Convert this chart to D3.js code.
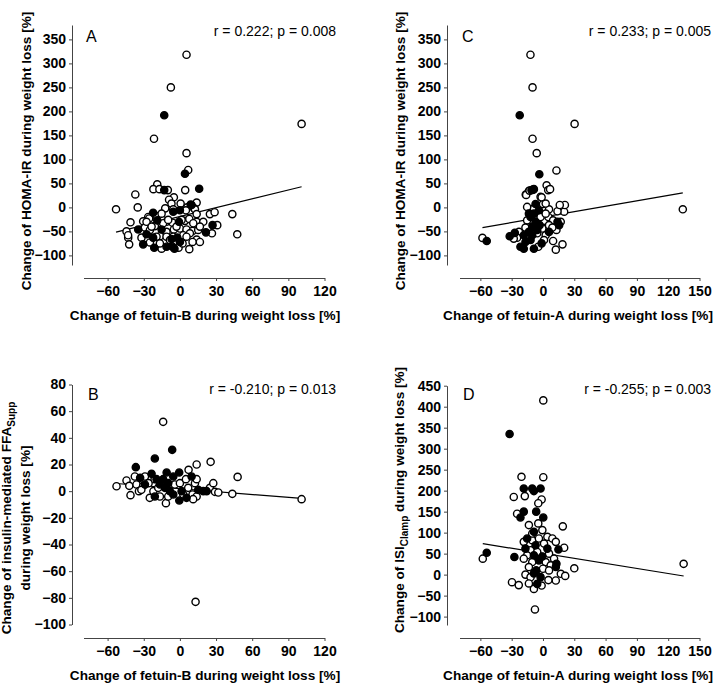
<!DOCTYPE html>
<html>
<head>
<meta charset="utf-8">
<script src="https://cdn.jsdelivr.net/npm/d3@7"></script>
<style>
  body { margin: 0; background: #fff; }
  svg { font-family: "Liberation Sans", Arial, sans-serif; }
  .axis path, .axis line { stroke: #444; stroke-width: 1; }
  .axis text { font-size: 14px; font-weight: bold; fill: #000; }
  .title { font-size: 13.6px; font-weight: bold; }
  .stat { font-size: 14px; }
  .letter { font-size: 16px; }
</style>
</head>
<body>
<div id="chart"></div>
<script>
// values: [x, y] pairs, open = white circle, filled = black circle

const panelA_open = [[5.5,318],[-7.5,250],[-21.5,143],[101,174],[5.5,113],[6.9,78],[-18.8,48],[-22,38],[-17,38],
  [-10,36],[-37,27],[4.4,36],[-5,21],[-53,-4],[-35,0],[-9,16],[-7,8],[0.6,8],[13.9,10],[6.1,0],[11.9,-2],
  [-12.2,-2],[-5.5,-4],[5,-6],[12.5,-4],[13.9,-14],[24.9,-14],[28.8,-10],[43.5,-14],[-26.3,-20],[-19.4,-18],
  [-41,-31],[-30.5,-29],[-25.5,-23],[-15.2,-23],[-11.1,-30],[-6.1,-32],[4.2,-28],[7.8,-24],[13.9,-30],[19.4,-30],[31,-37],
  [-44.3,-50],[-29.1,-42],[-24.9,-47],[-20.8,-39],[-11.1,-51],[-5,-46],[0,-44],[5.5,-46],[10.5,-49],[15.2,-47],[26.6,-54],[47.6,-56],
  [-42.9,-63],[-31.9,-63],[-16.6,-60],[-11.1,-61],[2.8,-58],[8.3,-54],[13.9,-67],
  [-42.1,-77],[-24.9,-73],[-15.2,-86],[-1.1,-84],[7.8,-87],[16.6,-72],
  [-27.7,-30],[-23.5,-40],[-15.2,-13],[-13.9,-33],[-9.7,-26],[-2.8,-40],[1.4,-26],[11.1,-33],[16.6,-40],
  [-5.5,-61],[5.5,-61],[-19.4,-61],[-8.3,-68],[2.2,-75],[10.5,-72],[-16.6,-75],[-43,-58]];
const panelA_filled = [[-13,192],[4.2,70],[-13,36],[16,39],[8.9,6],[0,-6],[-22.2,-11],[-18.8,-27],[-0.8,-30],[27.1,-37],
  [-34.6,-46],[-15.2,-46],[21.6,-52],[-27.7,-56],[-22.2,-63],[-6.9,-66],[-2.2,-63],[-30.5,-77],[-21.3,-84],[-11.1,-82],
  [-6.1,-82],[0,-72],[-5.5,-9],[9.7,5],[-4.5,-86]];

const panelC_open = [[-12,318],[-10,250],[30.3,174],[-10,143],[-6,113],[12.9,77],[3.5,46],[5,36],[-16.5,27],[-2.3,22],
  [-13.5,34],[134,-4],[-58,-63.5],[-23,-51],[-4.5,-82],[9.7,-70],[12.3,-88],[18.7,-77],[-15.2,-27],[-16.8,-42],[1,-28],
  [5.2,-20],[9.7,-27],[17,-30],[12.9,-47],[20.3,-9],[21,5],[13.9,-8],[5.8,-4],[0,7],[-8.7,-2],[-15.2,1],[-16.1,26],
  [-12.9,35],[-1.3,21],[6.8,38],[2.6,8],[-5.5,-54],[2.6,-58],[1,-68],[-24.8,-63],[-28,-65],[-2.3,-20],[2.6,-13],
  [-0.6,-44],[5.8,-37],[9,-42],[16.1,5]];
const panelC_filled = [[-22.3,192],[-3.5,69],[-9.4,37],[-53.9,-70],[-31.9,-60],[-27,-53],[-18.4,-58],[-21.6,-82],[-18.4,-86],
  [-8.7,-86],[-1.3,-75],[-11.9,-20],[-8.7,-13],[-7.1,-30],[-3.2,-37],[13.9,-30],[-7.1,7],[-11,36],[-8.7,38],[-13.5,-51],
  [-10.3,-58],[5.8,-51],[-11.9,-68],[-16.8,-72],[-3.9,-6],[-10.3,-40],[-5.5,-47],[15.5,-37],[-13.5,-13]];

const panelB_open = [[-13.9,52],[13.9,20],[25.5,22],[47.9,10.7],[101,-6],[-52.6,3.7],[7.2,16],[13,-83],[-11.6,-9],
  [-44.3,8],[-42,4],[-41,-3],[-37.4,11],[-36,5],[-29,11],[-30.5,4],[-34,0],[-26,6],[-22,0],[-18,2.5],[-16.6,-4],
  [-4.2,5],[0,6],[2.8,-2.5],[5,9],[6.9,2.5],[12.5,6],[13.9,9],[10.5,-2.5],[13.9,-4],[24.9,2.5],[27.7,6],[29.1,-0.5],
  [31.9,-1],[43.5,-2],[11,-6],[-25,-5],[-32,1],[-9.7,-4],[-21,9]];
const panelB_filled = [[-6.4,31],[-20.8,24.5],[-36.6,18],[-0.5,-7],[-33,10],[-23.5,13],[-19.4,9],[-20.8,-4],[-13.9,9],
  [-11,14],[-9.7,6],[-8.3,0],[-5.5,11],[-0.6,14],[1.4,0],[9.7,11],[15.2,1],[19.4,0],[22.2,0],[5.5,-5],[-29,5],
  [-16.6,5],[-12.5,2.5],[-5.5,-2.5]];

const panelD_open = [[0.3,415],[-20.6,233],[0.3,232],[-28,185],[-17.4,187],[-1.3,179],[-4.5,170],[-24.8,145],[-57.7,38],
  [134.8,25.7],[30,15],[19,115],[-29.7,-18],[-23.2,-25],[-7.7,-83],[-8.7,-34],[-13.5,118],[-4.5,122],[-0.6,106],
  [4.2,90],[-10.3,82],[-3.9,86],[-18.4,78],[1,74],[9,86],[12.3,78],[-11.9,58],[-5.5,54],[20.3,64],[-15.2,46],[5.8,50],
  [-18.4,38],[-10.3,30],[2.6,30],[10.6,38],[7.4,22],[-13.5,18],[0,14],[5.8,10],[17.1,2],[21.3,-3],[12.3,-14],
  [-16.8,0],[-11.9,-6],[-13.5,-21],[-1.3,-26],[5.2,-13],[-10.3,98]];
const panelD_filled = [[-32,335],[-18.4,205],[-10.3,205],[-2.3,205],[-8.7,199],[-18.4,150],[-6.5,150],[0.3,136],
  [-21.6,136],[-53.9,52],[-27.4,42],[-8.7,102],[-15.2,86],[-7.1,70],[-16.8,62],[4.2,62],[14.8,60],[-8.7,46],[-0.6,43],
  [-3.9,34],[12.9,26],[-6.5,10],[12.3,18],[-8.7,3],[-2.3,-6],[-5.5,-22]];

// fitted lines as drawn: [intercept, slope]
const regA = [-19, 0.614];
const regC = [-20.1, 0.377];
const regB = [1.9, -0.073];
const regD = [50.7, -0.4];

const statLabels = ["r = 0.222; p = 0.008", "r = 0.233; p = 0.005", "r = -0.210; p = 0.013", "r = -0.255; p = 0.003"];
const panelLetters = ["A", "C", "B", "D"];
const xTicksB = [-60, -30, 0, 30, 60, 90, 120];
const xTicksA = [-60, -30, 0, 30, 60, 90, 120, 150];
const yTicksHoma = [-100, -50, 0, 50, 100, 150, 200, 250, 300, 350];
const yTicksFfa = [-100, -80, -60, -40, -20, 0, 20, 40, 60, 80];
const yTicksIsi = [-100, -50, 0, 50, 100, 150, 200, 250, 300, 350, 400, 450];

const width = 715, height = 685;
const svg = d3.select("#chart").append("svg")
  .attr("width", width).attr("height", height);

const panels = [
  { open: panelA_open, filled: panelA_filled, reg: regA, letter: panelLetters[0], stat: statLabels[0],
    xDom: [-80, 120], xR: [83.5, 324.5], yDom: [-120, 380], yR: [265, 25], xTicks: xTicksB, yTicks: yTicksHoma,
    ax: 72, ay: 278, statX: 336, statY: 36, letX: 86, letY: 42,
    xTitle: "Change of fetuin-B during weight loss [%]", xTitleX: 205, xTitleY: 320,
    yTitle: [["Change of HOMA-IR during weight loss [%]"]], yTitleX: [31], yTitleY: 151 },
  { open: panelC_open, filled: panelC_filled, reg: regC, letter: panelLetters[1], stat: statLabels[1],
    xDom: [-80, 150], xR: [459.5, 699.5], yDom: [-120, 380], yR: [265, 25], xTicks: xTicksA, yTicks: yTicksHoma,
    ax: 447, ay: 278, statX: 711, statY: 36, letX: 462, letY: 42,
    xTitle: "Change of fetuin-A during weight loss [%]", xTitleX: 578, xTitleY: 320,
    yTitle: [["Change of HOMA-IR during weight loss [%]"]], yTitleX: [405], yTitleY: 151 },
  { open: panelB_open, filled: panelB_filled, reg: regB, letter: panelLetters[2], stat: statLabels[2],
    xDom: [-80, 120], xR: [83.5, 324.5], yDom: [-100, 80], yR: [624.5, 384.5], xTicks: xTicksB, yTicks: yTicksFfa,
    ax: 72, ay: 638, statX: 336, statY: 394, letX: 88, letY: 400,
    xTitle: "Change of fetuin-B during weight loss [%]", xTitleX: 205, xTitleY: 680,
    yTitle: [["Change of insulin-mediated FFA", "Supp"], ["during weight loss [%]"]], yTitleX: [11, 30], yTitleY: 518 },
  { open: panelD_open, filled: panelD_filled, reg: regD, letter: panelLetters[3], stat: statLabels[3],
    xDom: [-80, 150], xR: [459.5, 699.5], yDom: [-120, 450], yR: [625, 385.7], xTicks: xTicksA, yTicks: yTicksIsi,
    ax: 447, ay: 638, statX: 711, statY: 394, letX: 463, letY: 400,
    xTitle: "Change of fetuin-A during weight loss [%]", xTitleX: 578, xTitleY: 680,
    yTitle: [["Change of ISI", "Clamp", " during weight loss [%]"]], yTitleX: [404], yTitleY: 500 }
];

panels.forEach(p => {
  const x = d3.scaleLinear().domain(p.xDom).range(p.xR);
  const y = d3.scaleLinear().domain(p.yDom).range(p.yR);
  const g = svg.append("g");

  g.append("g").attr("class", "axis")
    .attr("transform", "translate(" + p.ax + ",0)")
    .call(d3.axisLeft(y).tickValues(p.yTicks).tickSize(3).tickSizeOuter(0).tickPadding(3));
  g.append("g").attr("class", "axis")
    .attr("transform", "translate(0," + p.ay + ")")
    .call(d3.axisBottom(x).tickValues(p.xTicks).tickSize(3).tickSizeOuter(0).tickPadding(5));

  // regression line over the x range of the data
  const all = p.open.concat(p.filled);
  const ext = d3.extent(all, d => d[0]);
  g.append("line")
    .attr("x1", x(ext[0])).attr("y1", y(p.reg[0] + p.reg[1] * ext[0]))
    .attr("x2", x(ext[1])).attr("y2", y(p.reg[0] + p.reg[1] * ext[1]))
    .attr("stroke", "#000").attr("stroke-width", 1.2);

  g.selectAll(".open").data(p.open).enter().append("circle")
    .attr("cx", d => x(d[0])).attr("cy", d => y(d[1])).attr("r", 3.6)
    .attr("fill", "#fff").attr("stroke", "#000").attr("stroke-width", 1.4);
  g.selectAll(".filled").data(p.filled).enter().append("circle")
    .attr("cx", d => x(d[0])).attr("cy", d => y(d[1])).attr("r", 3.6)
    .attr("fill", "#000").attr("stroke", "#000").attr("stroke-width", 1.4);

  g.append("text").attr("class", "stat")
    .attr("x", p.statX).attr("y", p.statY).attr("text-anchor", "end").text(p.stat);
  g.append("text").attr("class", "letter")
    .attr("x", p.letX).attr("y", p.letY).text(p.letter);

  g.append("text").attr("class", "title")
    .attr("x", p.xTitleX).attr("y", p.xTitleY)
    .attr("text-anchor", "middle").text(p.xTitle);

  // y title, parts after the first are subscripts / normal text alternately
  p.yTitle.forEach((parts, li) => {
    const t = g.append("text").attr("class", "title")
      .attr("text-anchor", "middle")
      .attr("transform", "translate(" + p.yTitleX[li] + "," + p.yTitleY + ") rotate(-90)");
    parts.forEach((s, i) => {
      const span = t.append("tspan").text(s);
      if (i % 2 === 1) span.attr("font-size", "10px").attr("dy", 4);
      else if (i > 0) span.attr("dy", -4);
    });
  });
});
</script>
</body>
</html>
